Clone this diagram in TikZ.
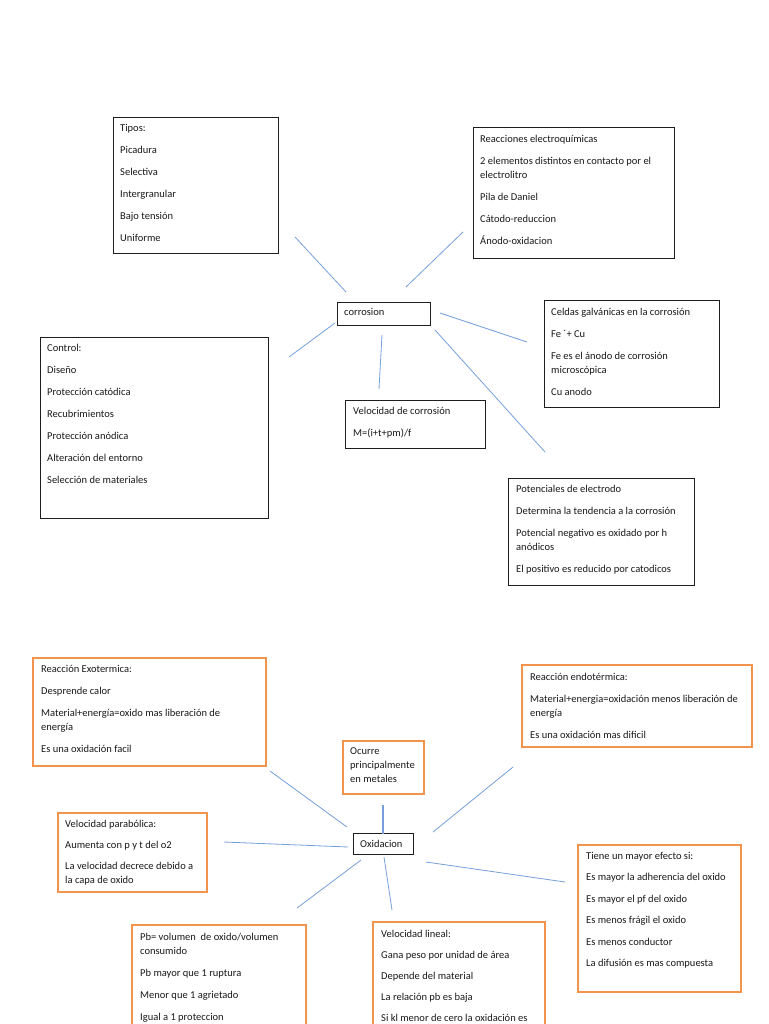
\documentclass[tikz,border=0pt]{standalone}
\usepackage{fontspec}
\setmainfont{Carlito}
\definecolor{lnblue}{RGB}{118,160,220}
\definecolor{boxorange}{RGB}{242,148,78}
\definecolor{boxblack}{RGB}{30,30,30}
\definecolor{txtcol}{RGB}{25,25,25}
\begin{document}
\begin{tikzpicture}[x=1pt,y=-1pt,
  bbox/.style={draw=boxblack,line width=0.9pt,inner sep=0pt,outer sep=0pt,anchor=north west,fill=white},
  obox/.style={draw=boxorange,line width=1.1pt,inner sep=0pt,outer sep=0pt,anchor=north west,fill=white},
  txt/.style={anchor=north west,inner sep=0pt,align=left,text=txtcol,
    font=\fontsize{10.5}{14}\selectfont,execute at begin node=\strut},
  conn/.style={draw=lnblue,line width=0.8pt}]
\useasboundingbox (0,0) rectangle (768,1024);
\clip (0,0) rectangle (768,1024);
\fill[white] (0,0) rectangle (768,1024);

% ---------- top map: corrosion ----------
\node[bbox,minimum width=165pt,minimum height=136pt] (tipos) at (113,117) {};
\node[txt] (tiposT) at (120,123.7) {Tipos:\\[8pt]Picadura\\[8pt]Selectiva\\[8pt]Intergranular\\[8pt]Bajo tensión\\[8pt]Uniforme};

\node[bbox,minimum width=201pt,minimum height=131pt] (reac) at (473,127) {};
\node[txt] (reacT) at (480,134.7) {Reacciones electroquímicas\\[8pt]2 elementos distintos en contacto por el\\electrolitro\\[8pt]Pila de Daniel\\[8pt]Cátodo-reduccion\\[8pt]Ánodo-oxidacion};

\node[bbox,minimum width=93pt,minimum height=23pt] (corr) at (337,302) {};
\node[txt] (corrT) at (344,305.7) {corrosion};

\node[bbox,minimum width=140pt,minimum height=48pt] (vel) at (345,400) {};
\node[txt] (velT) at (353,407.2) {Velocidad de corrosión\\[8pt]M=(i+t+pm)/f};

\node[bbox,minimum width=228pt,minimum height=181pt] (ctrl) at (40,337) {};
\node[txt] (ctrlT) at (47,343.7) {Control:\\[8pt]Diseño\\[8pt]Protección catódica\\[8pt]Recubrimientos\\[8pt]Protección anódica\\[8pt]Alteración del entorno\\[8pt]Selección de materiales};

\node[bbox,minimum width=175pt,minimum height=107pt] (celd) at (544,300) {};
\node[txt] (celdT) at (551,308.2) {Celdas galvánicas en la corrosión\\[8pt]Fe ´+ Cu\\[8pt]Fe es el ánodo de corrosión\\microscópica\\[8pt]Cu anodo};

\node[bbox,minimum width=186pt,minimum height=107pt] (pot) at (508,478) {};
\node[txt] (potT) at (516,484.7) {Potenciales de electrodo\\[8pt]Determina la tendencia a la corrosión\\[8pt]Potencial negativo es oxidado por h\\anódicos\\[8pt]El positivo es reducido por catodicos};

\coordinate (c1a) at (295,237); \coordinate (c1b) at (346,292);
\coordinate (c2a) at (463,232); \coordinate (c2b) at (406,287);
\coordinate (c3a) at (440,313); \coordinate (c3b) at (527,342);
\coordinate (c4a) at (335,323); \coordinate (c4b) at (289,357);
\coordinate (c5a) at (382,335); \coordinate (c5b) at (379,389);
\coordinate (c6a) at (435,330); \coordinate (c6b) at (545,452);
\draw[conn] (c1a) -- (c1b);
\draw[conn] (c2a) -- (c2b);
\draw[conn] (c3a) -- (c3b);
\draw[conn] (c4a) -- (c4b);
\draw[conn] (c5a) -- (c5b);
\draw[conn] (c6a) -- (c6b);

% ---------- bottom map: oxidacion ----------
\node[obox,minimum width=233pt,minimum height=108pt] (exo) at (33,658) {};
\node[txt] (exoT) at (41,664.7) {Reacción Exotermica:\\[8pt]Desprende calor\\[8pt]Material+energía=oxido mas liberación de\\energía\\[8pt]Es una oxidación facil};

\node[obox,minimum width=230pt,minimum height=82pt] (endo) at (522,665) {};
\node[txt] (endoT) at (530,672.7) {Reacción endotérmica:\\[8pt]Material+energia=oxidación menos liberación de\\energía\\[8pt]Es una oxidación mas dificil};

\node[obox,minimum width=81pt,minimum height=53pt] (ocu) at (343,741) {};
\node[txt] (ocuT) at (350,747.7) {Ocurre\\principalmente\\en metales};

\node[bbox,minimum width=60pt,minimum height=21pt] (oxi) at (353,833) {};
\node[txt] (oxiT) at (360,837.2) {Oxidacion};

\node[obox,minimum width=149pt,minimum height=79pt] (para) at (58,813) {};
\node[txt] (paraT) at (65,819.7) {Velocidad parabólica:\\[7pt]Aumenta con p y t del o2\\[7pt]La velocidad decrece debido a\\la capa de oxido};

\node[obox,minimum width=163pt,minimum height=147pt] (tiene) at (578,845) {};
\node[txt] (tieneT) at (586,851.7) {Tiene un mayor efecto si:\\[7.5pt]Es mayor la adherencia del oxido\\[7.5pt]Es mayor el pf del oxido\\[7.5pt]Es menos frágil el oxido\\[7.5pt]Es menos conductor\\[7.5pt]La difusión es mas compuesta};

\node[obox,minimum width=174pt,minimum height=110pt] (pb) at (132,925) {};
\node[txt] (pbT) at (140,932.7) {Pb= volumen\ \ de oxido/volumen\\consumido\\[8pt]Pb mayor que 1 ruptura\\[8pt]Menor que 1 agrietado\\[8pt]Igual a 1 proteccion};

\node[obox,minimum width=172pt,minimum height=115pt] (lin) at (373,922) {};
\node[txt] (linT) at (381,929.7) {Velocidad lineal:\\[7pt]Gana peso por unidad de área\\[7pt]Depende del material\\[7pt]La relación pb es baja\\[7pt]Si kl menor de cero la oxidación es};

\coordinate (d1a) at (270,771); \coordinate (d1b) at (347,827);
\coordinate (d2a) at (383,805); \coordinate (d2b) at (383,834);
\coordinate (d3a) at (433,832); \coordinate (d3b) at (513,767);
\coordinate (d4a) at (224,842); \coordinate (d4b) at (348,847);
\coordinate (d5a) at (426,862); \coordinate (d5b) at (565,882);
\coordinate (d6a) at (361,860); \coordinate (d6b) at (297,908);
\coordinate (d7a) at (384,857); \coordinate (d7b) at (392,910);
\draw[conn] (d1a) -- (d1b);
\draw[conn,line width=1.6pt] (d2a) -- (d2b);
\draw[conn] (d3a) -- (d3b);
\draw[conn] (d4a) -- (d4b);
\draw[conn] (d5a) -- (d5b);
\draw[conn] (d6a) -- (d6b);
\draw[conn] (d7a) -- (d7b);
\end{tikzpicture}
\end{document}
